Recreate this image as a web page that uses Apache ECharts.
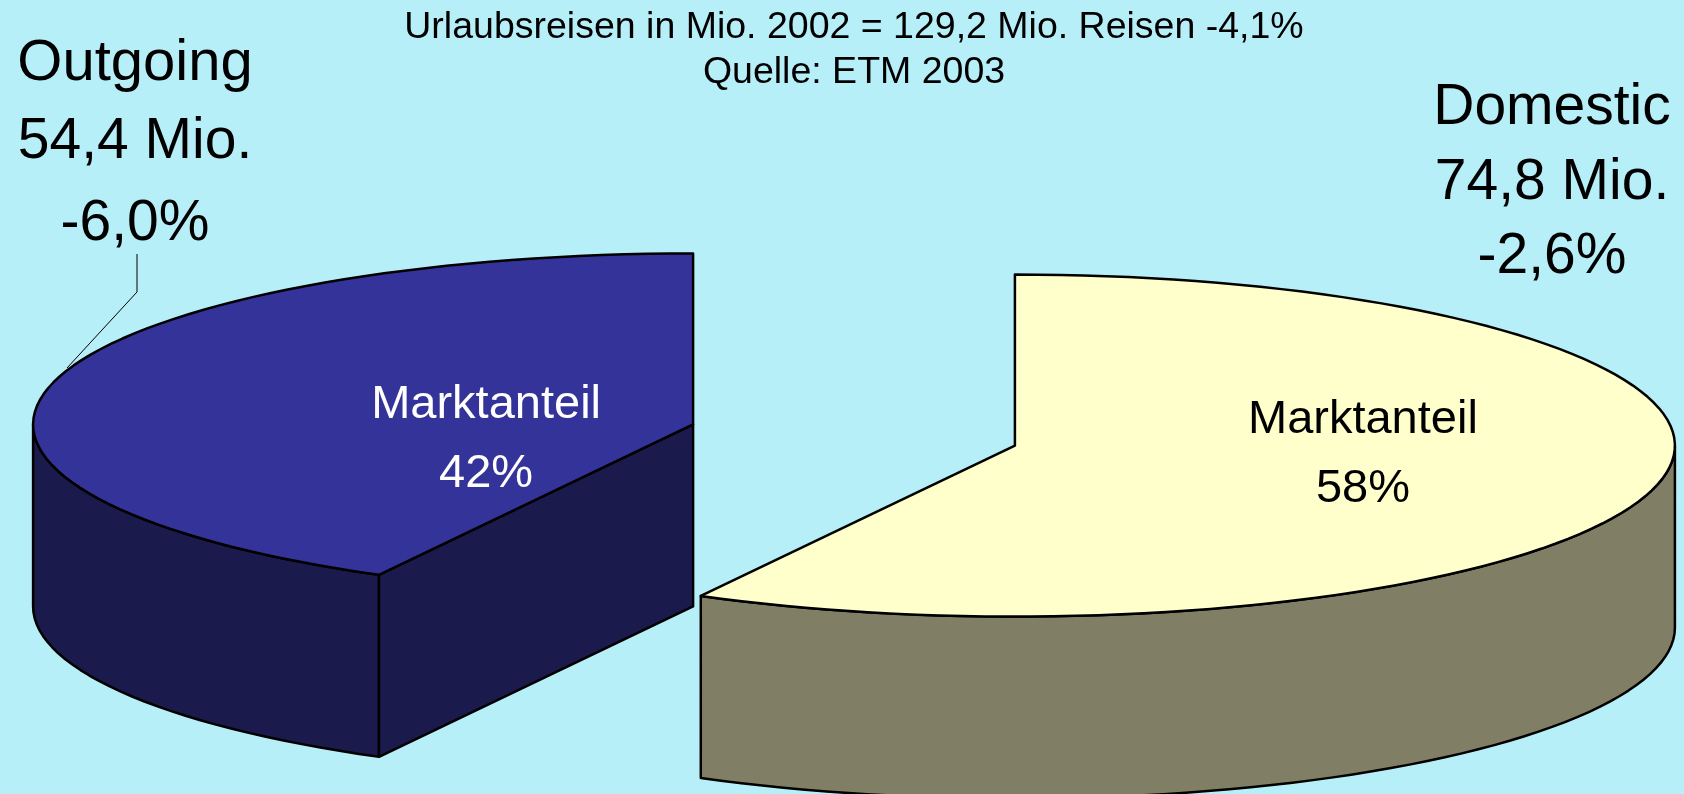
<!DOCTYPE html>
<html lang="de">
<head>
<meta charset="UTF-8">
<title>Urlaubsreisen 2002</title>
<script src="https://cdn.jsdelivr.net/npm/echarts@6/dist/echarts.min.js"></script>
<style>
  html, body { margin: 0; padding: 0; background: #b7eff8; }
  #main { width: 1684px; height: 794px; }
</style>
</head>
<body>
<div id="main"></div>
<script>
// Daten
const sliceNames = ['Outgoing', 'Domestic'];
const sliceValues = [54.4, 74.8];          // Mio. Reisen
const sliceChange = ['-6,0%', '-2,6%'];
const shareLabels = ['42%', '58%'];
const titleLines = ['Urlaubsreisen in Mio. 2002 = 129,2 Mio. Reisen -4,1%', 'Quelle: ETM 2003'];

// Layout der "3D"-Torte
const FONT = '"Liberation Sans", Arial, sans-serif';
const cx0 = 854, cy0 = 435, rx = 660, ry = 171, depth = 182, explode = 0.2515;
const topColors = ['#333399', '#ffffcc'];
const sideColors = ['#1b1a4c', '#807f65'];
const shareColors = ['#ffffff', '#000000'];
const shareShift = [[-207, 15], [348, 9]];

const total = sliceValues.reduce((a, b) => a + b, 0);
const rad = d => d * Math.PI / 180;

function rim(cx, cy, a, dy) {
    return [cx + rx * Math.cos(rad(a)), cy - ry * Math.sin(rad(a)) + (dy || 0)];
}

function arc(cx, cy, a0, a1, dy) {
    const n = Math.max(2, Math.ceil(Math.abs(a1 - a0) / 2));
    const pts = [];
    for (let k = 0; k <= n; k++) pts.push(rim(cx, cy, a0 + (a1 - a0) * k / n, dy));
    return pts;
}

function renderSlice(params, api) {
    const i = params.dataIndex;
    let before = 0;
    for (let k = 0; k < i; k++) before += sliceValues[k];
    // Start oben (12 Uhr), gegen den Uhrzeigersinn
    const a0 = 90 + 360 * before / total;
    const a1 = a0 + 360 * api.value(0) / total;
    const mid = (a0 + a1) / 2;
    const cx = cx0 + explode * rx * Math.cos(rad(mid));
    const cy = cy0 - explode * ry * Math.sin(rad(mid));
    const edge = { stroke: '#000', lineWidth: 2.5, lineJoin: 'round' };
    const children = [];

    // vordere Mantelflaeche
    [[180, 360], [540, 720]].forEach(([f0, f1]) => {
        const s = Math.max(a0, f0), e = Math.min(a1, f1);
        if (e > s) {
            const pts = arc(cx, cy, s, e, 0).concat(arc(cx, cy, e, s, depth));
            children.push({ type: 'polygon', shape: { points: pts }, style: Object.assign({ fill: sideColors[i] }, edge) });
        }
    });

    // sichtbare Schnittflaechen
    [[a0, Math.cos(rad(a0)) > 1e-6], [a1, Math.cos(rad(a1)) < -1e-6]].forEach(([a, vis]) => {
        if (!vis) return;
        const p = rim(cx, cy, a, 0);
        children.push({
            type: 'polygon',
            shape: { points: [[cx, cy], p, [p[0], p[1] + depth], [cx, cy + depth]] },
            style: Object.assign({ fill: sideColors[i] }, edge)
        });
    });

    // Deckflaeche
    children.push({
        type: 'polygon',
        shape: { points: [[cx, cy]].concat(arc(cx, cy, a0, a1, 0)) },
        style: Object.assign({ fill: topColors[i] }, edge)
    });

    children.push({
        type: 'text',
        style: {
            text: 'Marktanteil\n' + shareLabels[i],
            x: cx + shareShift[i][0], y: cy + shareShift[i][1],
            align: 'center', verticalAlign: 'middle',
            fill: shareColors[i], font: '47px ' + FONT, lineHeight: 69
        }
    });
    return { type: 'group', children: children };
}

// Textzeile: x = Mitte, b = Grundlinie
function textLine(text, x, b, size) {
    return {
        type: 'text', x: x, y: b - 0.35 * size, silent: true,
        style: { text: text, font: size + 'px ' + FONT, fill: '#000', align: 'center', verticalAlign: 'middle' }
    };
}

const graphic = [
    textLine(titleLines[0], 854, 41, 37.5),
    textLine(titleLines[1], 854, 86, 37.5),
    textLine(sliceNames[0], 135, 84, 58),
    textLine(sliceValues[0].toFixed(1).replace('.', ',') + ' Mio.', 135, 162, 57),
    textLine(sliceChange[0], 135, 244, 57),
    textLine(sliceNames[1], 1552, 128, 57),
    textLine(sliceValues[1].toFixed(1).replace('.', ',') + ' Mio.', 1552, 203, 57),
    textLine(sliceChange[1], 1552, 277, 57),
    {
        type: 'polyline', silent: true,
        shape: { points: [[137, 254], [137, 292], [67, 368]] },
        style: { stroke: '#000', lineWidth: 1, fill: null }
    }
];

const chart = echarts.init(document.getElementById('main'));
chart.setOption({
    backgroundColor: '#b7eff8',
    animation: false,
    series: [{
        type: 'custom',
        coordinateSystem: 'none',
        silent: true,
        renderItem: renderSlice,
        data: sliceValues.map((v, i) => ({ name: sliceNames[i], value: [v] }))
    }],
    graphic: graphic
});
</script>
</body>
</html>
